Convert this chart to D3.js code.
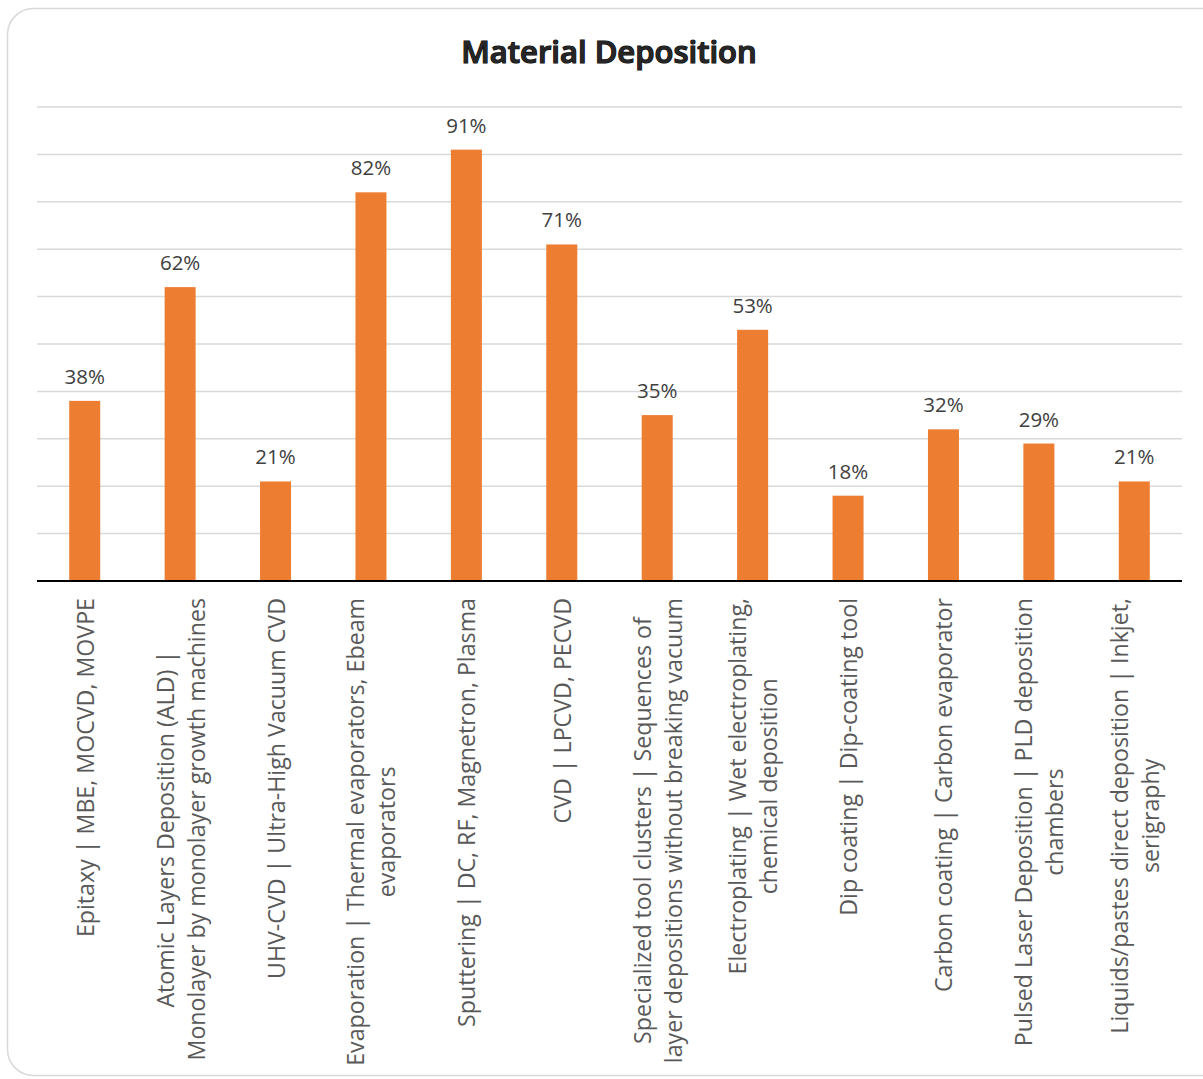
<!DOCTYPE html>
<html><head><meta charset="utf-8">
<script src="https://cdn.jsdelivr.net/npm/d3@7"></script>
<style>body{margin:0;background:#fff;}svg{display:block;}</style>
</head><body>
<svg id="chart" width="1203" height="1079"></svg>
<script>
const categories = [
  ["Epitaxy | MBE, MOCVD, MOVPE"],
  ["Atomic Layers Deposition (ALD) |", "Monolayer by monolayer growth machines"],
  ["UHV-CVD | Ultra-High Vacuum CVD"],
  ["Evaporation | Thermal evaporators, Ebeam", "evaporators"],
  ["Sputtering | DC, RF, Magnetron, Plasma"],
  ["CVD | LPCVD, PECVD"],
  ["Specialized tool clusters | Sequences of", "layer depositions without breaking vacuum"],
  ["Electroplating | Wet electroplating,", "chemical deposition"],
  ["Dip coating | Dip-coating tool"],
  ["Carbon coating | Carbon evaporator"],
  ["Pulsed Laser Deposition | PLD deposition", "chambers"],
  ["Liquids/pastes direct deposition | Inkjet,", "serigraphy"]
];
const values = [38, 62, 21, 82, 91, 71, 35, 53, 18, 32, 29, 21];
const gridTicks = [0, 10, 20, 30, 40, 50, 60, 70, 80, 90, 100];
const title = "Material Deposition";

(function () {
const svg = d3.select("#chart");
const font = "'Open Sans', 'Noto Sans', sans-serif";

// border
svg.append("rect").attr("x", 7.5).attr("y", 8.5).attr("width", 1230).attr("height", 1067)
  .attr("rx", 26).attr("fill", "#fff").attr("stroke", "#d9d9d9").attr("stroke-width", 1.5);

const pLeft = 37, pRight = 1182, pTop = 107, pBottom = 581;
const idx = categories.map((d, i) => i);
const x = d3.scaleBand().domain(idx).range([pLeft, pRight]).paddingInner(0.675).paddingOuter(0.3375);
const y = d3.scaleLinear().domain([0, 100]).range([pBottom, pTop]);

// gridlines
svg.append("g").selectAll("line").data(gridTicks.filter(t => t > 0)).join("line")
  .attr("x1", pLeft).attr("x2", pRight)
  .attr("y1", d => y(d)).attr("y2", d => y(d))
  .attr("stroke", "#d9d9d9").attr("stroke-width", 1.5);

// bars
svg.append("g").selectAll("rect").data(values).join("rect")
  .attr("x", (d, i) => x(i)).attr("width", x.bandwidth())
  .attr("y", d => y(d)).attr("height", d => y(0) - y(d))
  .attr("fill", "#ed7d31");

// baseline
svg.append("line").attr("x1", pLeft).attr("x2", pRight)
  .attr("y1", y(0)).attr("y2", y(0)).attr("stroke", "#000").attr("stroke-width", 2);

// data labels
svg.append("g").selectAll("text").data(values).join("text")
  .attr("x", (d, i) => x(i) + x.bandwidth() / 2)
  .attr("y", d => y(d) - 17)
  .attr("text-anchor", "middle")
  .attr("font-family", font).attr("font-size", 20.5).attr("fill", "#404040")
  .text(d => d + "%");

// category labels (rotated)
const labelTop = 598, lineH = 31, fs = 23.2;
categories.forEach((lines, i) => {
  const cx = x(i) + x.bandwidth() / 2;
  const g = svg.append("g").attr("transform", `translate(${cx},${labelTop}) rotate(-90)`);
  const ts = lines.map((ln, k) => g.append("text")
    .attr("font-family", font).attr("font-size", fs).attr("fill", "#595959")
    .attr("text-anchor", "middle")
    .attr("dominant-baseline", "central")
    .attr("y", (k - (lines.length - 1) / 2) * lineH)
    .text(ln));
  const maxW = d3.max(ts, t => t.node().getComputedTextLength());
  ts.forEach(t => t.attr("x", -maxW / 2));
});

// title
svg.append("text").attr("x", 609).attr("y", 63).attr("text-anchor", "middle")
  .attr("font-family", font).attr("font-weight", 600).attr("font-size", 31)
  .attr("fill", "#262626").attr("stroke", "#000").attr("stroke-width", 1.2)
  .attr("paint-order", "stroke")
  .text(title);
})();
</script>
</body></html>
